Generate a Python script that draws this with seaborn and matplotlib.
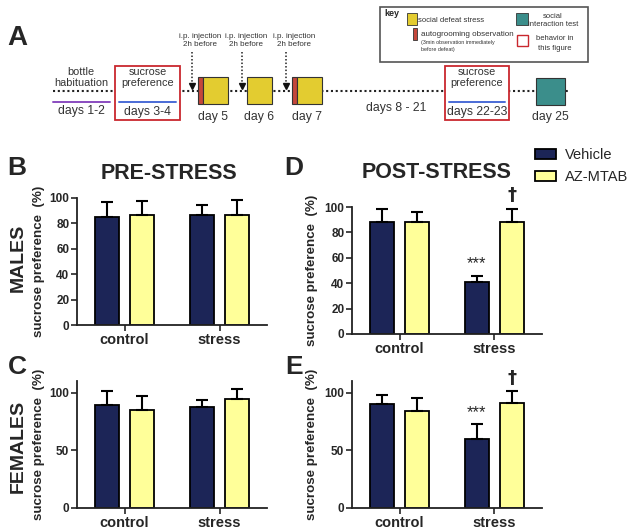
import matplotlib
matplotlib.use("Agg")
import matplotlib.pyplot as plt
from matplotlib.patches import Rectangle, Patch
import seaborn as sns
import pandas as pd

sns.set_style("white")
plt.rcParams['font.family'] = ['Liberation Sans', 'DejaVu Sans']

# ---------------- data ----------------
conditions = ["control", "stress"]
treatments = ["Vehicle", "AZ-MTAB"]

# B: males, pre-stress
b_vehicle_mean = [84.7, 86.8]
b_vehicle_sem = [11.9, 7.7]
b_az_mean = [86.3, 86.8]
b_az_sem = [11.6, 11.9]

# D: males, post-stress
d_vehicle_mean = [87.9, 41.3]
d_vehicle_sem = [10.8, 4.7]
d_az_mean = [87.9, 88.4]
d_az_sem = [7.9, 10.3]

# C: females, pre-stress
c_vehicle_mean = [89.0, 87.9]
c_vehicle_sem = [12.4, 6.0]
c_az_mean = [85.3, 94.2]
c_az_sem = [11.5, 8.7]

# E: females, post-stress
e_vehicle_mean = [89.9, 59.5]
e_vehicle_sem = [7.8, 13.0]
e_az_mean = [84.1, 91.0]
e_az_sem = [11.3, 10.4]

post_vehicle_marks = ["", "***"]
post_az_marks = ["", "\u2020"]

male_ticks = [0, 20, 40, 60, 80, 100]
female_ticks = [0, 50, 100]

NAVY = "#1c2557"
LIGHTY = "#ffff99"

W, H = 632, 531
fig = plt.figure(figsize=(W / 100, H / 100), dpi=100)


def px_axes(l, t, r, b):
    return fig.add_axes([l / W, 1 - b / H, (r - l) / W, (b - t) / H])


def draw_panel(ax, vm, vs, am, asem, ylim, yticks, vmarks=None, amarks=None, labx=-0.17):
    df = pd.DataFrame({
        "condition": conditions * 2,
        "treatment": [treatments[0]] * 2 + [treatments[1]] * 2,
        "value": vm + am,
    })
    sems = {treatments[0]: vs, treatments[1]: asem}
    marks = {treatments[0]: vmarks, treatments[1]: amarks}
    sns.barplot(data=df, x="condition", y="value", hue="treatment",
                order=conditions, hue_order=treatments,
                palette=[NAVY, LIGHTY], saturation=1, edgecolor="black",
                linewidth=1.3, width=0.74, gap=0.32, errorbar=None,
                legend=False, ax=ax)
    for cont, trt in zip(ax.containers, treatments):
        for i, bar in enumerate(cont):
            x = bar.get_x() + bar.get_width() / 2
            top = bar.get_height()
            s = sems[trt][i]
            ax.errorbar([x], [top], yerr=[[0], [s]], color="black", lw=1.5,
                        capsize=4.5, capthick=1.5, zorder=3)
            m = marks[trt]
            if m and m[i]:
                if m[i] == "***":
                    ax.annotate(m[i], (x, top + s), xytext=(0, 5.5),
                                textcoords="offset points", ha="center",
                                va="baseline", fontsize=12, annotation_clip=False)
                else:
                    ax.annotate(m[i], (x, top + s), xytext=(0, 6),
                                textcoords="offset points", ha="center",
                                va="baseline", fontsize=13, fontweight="bold",
                                family=["DejaVu Sans"], annotation_clip=False)
    ax.set_xlim(-0.5, 1.5)
    ax.set_ylim(*ylim)
    ax.set_yticks(yticks)
    ax.set_xlabel("")
    ax.set_ylabel("sucrose preference  (%)", fontsize=9.6, fontweight="bold")
    ax.yaxis.set_label_coords(labx, 0.5)
    for sp in ["top", "right"]:
        ax.spines[sp].set_visible(False)
    for sp in ["left", "bottom"]:
        ax.spines[sp].set_linewidth(1.3)
        ax.spines[sp].set_color("#222222")
    ax.tick_params(axis="y", direction="out", length=4, width=1.2, pad=1.5,
                   labelsize=8.5, left=True)
    ax.tick_params(axis="x", direction="out", length=4, width=1.2, pad=2,
                   labelsize=10.5, bottom=True)
    for lab in ax.get_yticklabels() + ax.get_xticklabels():
        lab.set_fontweight("bold")


axB = px_axes(77, 198, 267, 325)
draw_panel(axB, b_vehicle_mean, b_vehicle_sem, b_az_mean, b_az_sem, (0, 100), male_ticks, labx=-0.17)
axD = px_axes(352, 207, 542, 334)
draw_panel(axD, d_vehicle_mean, d_vehicle_sem, d_az_mean, d_az_sem, (0, 100), male_ticks,
           post_vehicle_marks, post_az_marks, labx=-0.18)
axC = px_axes(77, 381, 267, 508)
draw_panel(axC, c_vehicle_mean, c_vehicle_sem, c_az_mean, c_az_sem, (0, 110), female_ticks, labx=-0.17)
axE = px_axes(352, 381, 542, 508)
draw_panel(axE, e_vehicle_mean, e_vehicle_sem, e_az_mean, e_az_sem, (0, 110), female_ticks,
           post_vehicle_marks, post_az_marks, labx=-0.18)


def ftext(x, y, s, **kw):
    fig.text(x / W, 1 - y / H, s, **kw)


ftext(169, 173, "PRE-STRESS", ha="center", va="center", fontsize=15.5, fontweight="bold")
ftext(437, 172, "POST-STRESS", ha="center", va="center", fontsize=15.5, fontweight="bold")
for lx, ly, L in [(17, 168, "B"), (294, 168, "D"), (17, 367, "C"), (294, 367, "E")]:
    ftext(lx, ly, L, ha="center", va="center", fontsize=19, fontweight="bold")
ftext(18, 258, "MALES", ha="center", va="center", rotation=90, fontsize=14, fontweight="bold")
ftext(18, 446, "FEMALES", ha="center", va="center", rotation=90, fontsize=14, fontweight="bold")

handles = [Patch(facecolor=NAVY, edgecolor="black", lw=1.3),
           Patch(facecolor=LIGHTY, edgecolor="black", lw=1.3)]
fig.legend(handles, treatments, loc="upper left", bbox_to_anchor=(535 / W, 1 - 148 / H),
           frameon=False, fontsize=10.5, handlelength=1.45, handleheight=0.72,
           handletextpad=0.6, labelspacing=0.55, borderpad=0, borderaxespad=0)

# ---------------- panel A: timeline schematic ----------------
axA = fig.add_axes([0, 1 - 130 / H, 1, 130 / H])
axA.set_xlim(0, W)
axA.set_ylim(130, 0)
axA.axis("off")

TXT = "#333333"
YEL = "#e3cc30"
RED = "#c4473b"
TEAL = "#3b8e8b"
BOXRED = "#c9282e"

axA.text(17, 38, "A", ha="center", va="center", fontsize=20, fontweight="bold")
axA.plot([53, 568], [91, 91], color="#222222", lw=1.5, ls=(0, (1, 1.3)), zorder=1)

# bottle habituation
axA.text(81, 72, "bottle", ha="center", va="center", fontsize=7.8, color=TXT)
axA.text(81, 83, "habituation", ha="center", va="center", fontsize=7.8, color=TXT)
axA.plot([53, 110], [102, 102], color="#8a4cc0", lw=1.4)
axA.text(81, 111, "days 1-2", ha="center", va="center", fontsize=8.8, color=TXT)

# sucrose preference boxes
for (x0, x1, lab) in [(115, 180, "days 3-4"), (445, 509, "days 22-23")]:
    axA.add_patch(Rectangle((x0, 66), x1 - x0, 54, fc="white", ec=BOXRED, lw=1.3, zorder=2))
    xc = (x0 + x1) / 2
    axA.text(xc, 72, "sucrose", ha="center", va="center", fontsize=7.8, color=TXT, zorder=3)
    axA.text(xc, 83, "preference", ha="center", va="center", fontsize=7.8, color=TXT, zorder=3)
    axA.plot([x0 + 4, x1 - 4], [102, 102], color="#4a6bd6", lw=1.4, zorder=3)
    axA.text(xc, 111.5, lab, ha="center", va="center", fontsize=8.8, color=TXT, zorder=3)

# defeat days
for (x0, red, lab) in [(198, True, "day 5"), (247, False, "day 6"), (292, True, "day 7")]:
    if red:
        axA.add_patch(Rectangle((x0, 77), 5, 27, fc=RED, ec="#333333", lw=0.8, zorder=2))
        axA.add_patch(Rectangle((x0 + 5, 77), 25, 27, fc=YEL, ec="#333333", lw=0.8, zorder=2))
        xc = x0 + 15
    else:
        axA.add_patch(Rectangle((x0, 77), 25, 27, fc=YEL, ec="#333333", lw=0.8, zorder=2))
        xc = x0 + 12.5
    axA.text(xc, 117, lab, ha="center", va="center", fontsize=8.8, color=TXT)

# injections
for (ax_x, tx) in [(192, 200), (242, 246), (286, 294)]:
    axA.plot([ax_x, ax_x], [52, 84], color="#222222", lw=1.1, ls=(0, (1, 1.3)))
    axA.plot([ax_x], [86], marker="v", color="#111111", ms=4.5)
    axA.text(tx, 36, "i.p. injection", ha="center", va="center", fontsize=5.8, color=TXT)
    axA.text(tx, 45, "2h before", ha="center", va="center", fontsize=5.8, color=TXT)

axA.text(396, 108, "days 8 - 21", ha="center", va="center", fontsize=8.8, color=TXT)

# day 25
axA.add_patch(Rectangle((536, 78), 29, 27, fc=TEAL, ec="#333333", lw=0.8, zorder=2))
axA.text(550, 117, "day 25", ha="center", va="center", fontsize=8.8, color=TXT)

# key box
axA.add_patch(Rectangle((380, 7), 208, 55, fc="white", ec="#555555", lw=1.2, zorder=2))
axA.text(384, 14, "key", ha="left", va="center", fontsize=6.5, fontweight="bold", zorder=3)
axA.add_patch(Rectangle((407, 13), 10, 12, fc=YEL, ec="#333333", lw=0.6, zorder=3))
axA.text(418, 20, "social defeat stress", ha="left", va="center", fontsize=5.5, color=TXT, zorder=3)
axA.add_patch(Rectangle((413, 28), 4, 12, fc=RED, ec="#333333", lw=0.6, zorder=3))
axA.text(421, 34, "autogrooming observation", ha="left", va="center", fontsize=5.8, color=TXT, zorder=3)
axA.text(421, 42.5, "(3min observation immediately", ha="left", va="center", fontsize=3.9, color=TXT, zorder=3)
axA.text(421, 49.5, "before defeat)", ha="left", va="center", fontsize=3.9, color=TXT, zorder=3)
axA.add_patch(Rectangle((516, 13), 12, 12, fc=TEAL, ec="#333333", lw=0.6, zorder=3))
axA.text(553, 16, "social", ha="center", va="center", fontsize=5.5, color=TXT, zorder=3)
axA.text(553, 25, "interaction test", ha="center", va="center", fontsize=5.5, color=TXT, zorder=3)
axA.add_patch(Rectangle((517, 35), 11, 11, fc="white", ec=BOXRED, lw=1.0, zorder=3))
axA.text(555, 38, "behavior in", ha="center", va="center", fontsize=5.5, color=TXT, zorder=3)
axA.text(555, 48, "this figure", ha="center", va="center", fontsize=5.5, color=TXT, zorder=3)

fig.savefig("out.png", dpi=100)
